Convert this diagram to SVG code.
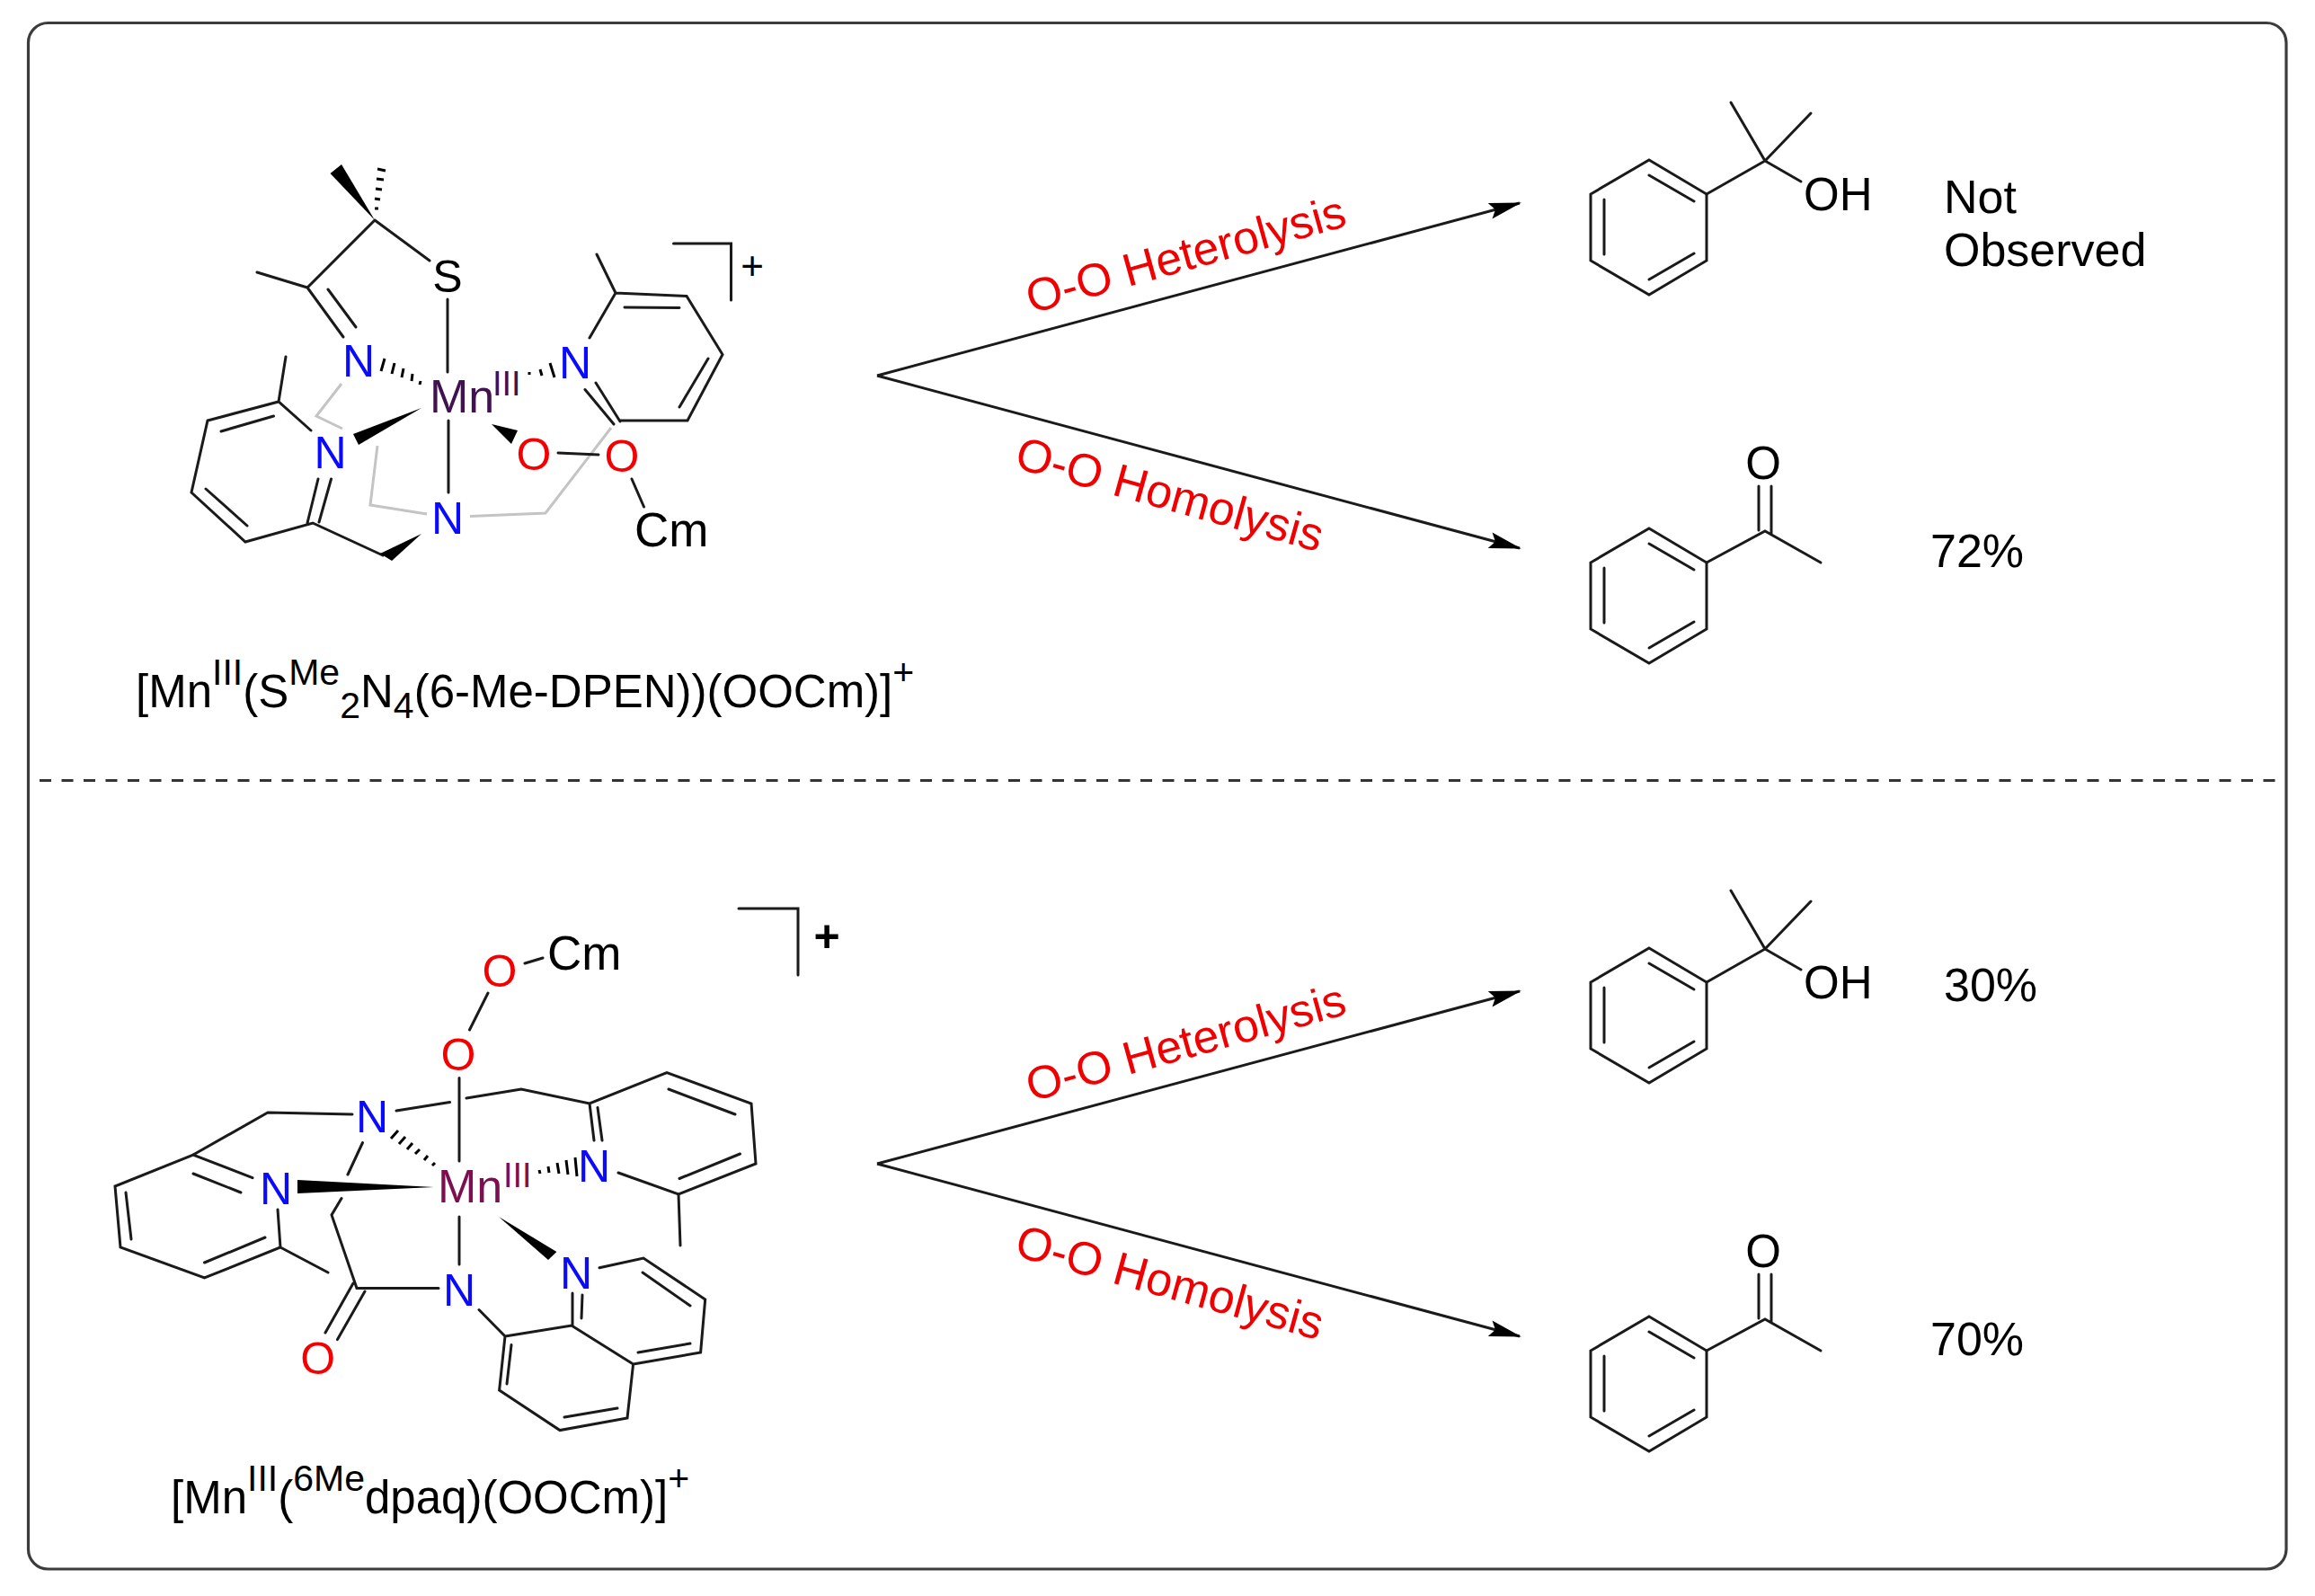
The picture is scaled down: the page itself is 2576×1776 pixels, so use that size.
<svg xmlns="http://www.w3.org/2000/svg" xmlns:xlink="http://www.w3.org/1999/xlink" width="2576" height="1776" viewBox="0 0 2576 1776">
<style>
text{font-family:"Liberation Sans",Arial,sans-serif;font-size:50px;fill:#000}
.c{text-anchor:middle}
.b{fill:none;stroke:#1a1a1a;stroke-width:3;stroke-linecap:round;stroke-linejoin:miter}
.g{fill:none;stroke:#c4c4c4;stroke-width:3;stroke-linejoin:miter}
.w{fill:#000;stroke:none}
.h{fill:none;stroke:#000;stroke-width:3}
.n{fill:#0a0aff}
.o{fill:#f50000}
.m1{fill:#40124f;font-size:52px}
.m2{fill:#7c0f50;font-size:52px}
.sup{font-size:41px}
.cap{font-size:51px}
.cm{font-size:53px}
.pr{font-size:51px}
.y{font-size:52px}
.small{font-size:38px}
.lab{font-size:52px;fill:#f00000;text-anchor:middle}
.lab2{font-size:51.500px}
.arr{fill:none;stroke:#1a1a1a;stroke-width:3;marker-end:url(#head)}
</style>
<defs>
<marker id="head" markerUnits="userSpaceOnUse" markerWidth="36" markerHeight="20" refX="34" refY="10" orient="auto">
<path d="M0 1L36 10L0 19L6 10Z" fill="#000"/>
</marker>
<g id="phenyl">
<path class="b" d="M1835 178L1899 216V290L1835 328L1770 290V216Z"/>
<path class="b" d="M1835 195L1885 224M1785 222V283M1835 311L1885 282"/>
</g>
<g id="cumol">
<use href="#phenyl"/>
<path class="b" d="M1899 216L1964 179L1926 114M1964 179L2015 126M1964 179L2004 202"/>
<text x="2007" y="234" class="pr">OH</text>
</g>
<g id="aceto">
<use href="#phenyl" y="410"/>
<path class="b" d="M1899 626L1964 591L2026 626M1957 590V541M1971 594V541"/>
<text x="1962" y="533" class="pr c">O</text>
</g>
</defs>
<rect width="2576" height="1776" fill="#fff"/>
<g id="frame">
<rect x="31.500" y="25.500" width="2512.500" height="1720.500" rx="22" fill="none" stroke="#3c3c3c" stroke-width="3.200"/>
</g>
<g id="divider">
<path d="M44 868.500H2540" fill="none" stroke="#333" stroke-width="3" stroke-dasharray="13 11.500"/>
</g>
<g id="connectors">
<path class="arr" d="M976 418L1691 226"/>
<path class="arr" d="M976 418L1691 610"/>
<path class="arr" d="M976 1295L1691 1103"/>
<path class="arr" d="M976 1295L1691 1487"/>
</g>
<g id="complex-1">
<path class="g" d="M380 427L352 463L381 477M420 496L412 562L475 572M523 574.500L607 571L680 476"/>
<path class="b" d="M417 245L478 290M417 245L342 320L286 303M342 320L382 375M365 322L396 364M498 333V414M499 468V548M621 504L666 506M703 533L716.500 564"/>
<path class="b" d="M346 479L310 447L231 468L213 548L273 603L348 582L426 618M310 447L318 397M354 533L342 582M368.500 533L355 581M246 480L304.500 463M229 544L275 585"/>
<path class="b" d="M656 376L685 326L764 329.500L804 394.500L765 468H690M685 326L664 283M651 433.500L683 472M663 426L690 469M695 342L756 342.500M788 399L756 453"/>
<path class="w" d="M417 245L367.500 193L380 183Z"/>
<path class="h" d="M417 232L421 232M417 221L423 222M418 210L425 211M419 199L427 200M420 188L429 190"/>
<path class="w" d="M469 454L393 483L399 495Z"/>
<path class="w" d="M547 472L576 479L569 494Z"/>
<path class="w" d="M469 594L423 616L436 624Z"/>
<path class="h" d="M428 399L424 413M439 404L436 416M449 410L447 420M459 416L458 424M468 424L467 428M612 404L617 420M601 411L603 418M589 414V417"/>
<path class="b" d="M749.500 271H813.500V334"/>
<text x="498" y="325" class="c">S</text>
<text x="399" y="419" class="c n">N</text>
<text x="640" y="421" class="c n">N</text>
<text x="367.500" y="521" class="c n">N</text>
<text x="498" y="594" class="c n">N</text>
<text x="478" y="459" class="m1">Mn</text>
<text x="548" y="440" class="small m1">III</text>
<text x="594" y="523" class="c o">O</text>
<text x="692" y="525" class="c o">O</text>
<text x="706" y="608" class="cm">Cm</text>
<text x="837" y="311" class="small c" style="font-size:44px">+</text>
<text id="caption-1" x="151" y="787" class="cap">[Mn<tspan dy="-25" class="sup">III</tspan><tspan dy="25">(S</tspan><tspan dy="-25" class="sup">Me</tspan><tspan dy="37" class="sup">2</tspan><tspan dy="-12">N</tspan><tspan dy="12" class="sup">4</tspan><tspan dy="-12">(6-Me-DPEN))(OOCm)]</tspan><tspan dy="-25" class="sup">+</tspan></text>
</g>
<g id="complex-2">
<path class="b" d="M584 1072L604 1066M543 1105L522.500 1146M511 1199.500V1292M511 1354V1407"/>
<path class="b" d="M392 1240L298 1238L215 1285M441 1236L500.500 1226.500M519 1222L580 1212L656 1228L742 1193.500L836 1228L841 1295L755 1329L688 1305M755 1329L757 1386M661 1269L656 1228M670 1269L665 1232.500M744 1212L818 1240M756 1311.500L823.500 1284"/>
<path class="b" d="M281 1310.600L215 1285L128 1320L134 1388L227.500 1422L312 1388L309 1346M312 1388L365 1416M215 1306L268 1327M140 1327L146 1379M227.500 1405L295 1377"/>
<path class="b" d="M403.500 1271.500L387 1307M380 1333.500L369 1352L397 1433.600H488M393 1428L362 1483M406 1437L375.500 1490.600"/>
<path class="b" d="M533 1457.500L562 1487L555.600 1547L623 1591.600L698 1578L704.600 1518L636 1475L562 1487M637 1475V1439M647 1467L648 1441M667 1410.700L716 1400L784.700 1446L779.600 1505L704.600 1518M569 1496.600L564 1540M628 1577L687 1567M710 1505L768 1495M768 1453L715 1416"/>
<path class="w" d="M483 1321L331 1313V1328Z"/>
<path class="w" d="M555 1354L619.400 1393L610 1402Z"/>
<path class="h" d="M443 1258L435 1267M451 1265L444 1273M459 1272L453 1279M467 1279L462 1284M476 1286L472 1291M484 1294L481 1297M640 1288L642 1309M630 1291L632 1307M620 1294L622 1306M610 1298L611 1305M600 1302L601 1306"/>
<path class="b" d="M822 1011H888V1085"/>
<text x="414" y="1260" class="c n">N</text>
<text x="307" y="1340" class="c n">N</text>
<text x="661" y="1315" class="c n">N</text>
<text x="511" y="1453" class="c n">N</text>
<text x="641" y="1434" class="c n">N</text>
<text x="487" y="1338" class="m2">Mn</text>
<text x="560" y="1321" class="small m2">III</text>
<text x="510" y="1191" class="c o">O</text>
<text x="556" y="1098" class="c o">O</text>
<text x="353.600" y="1529" class="c o">O</text>
<text x="609" y="1079" class="cm">Cm</text>
<text x="920" y="1059" class="small c" font-weight="bold" style="font-size:50px">+</text>
<text id="caption-2" x="190" y="1684" class="cap">[Mn<tspan dy="-25" class="sup">III</tspan><tspan dy="25">(</tspan><tspan dy="-25" class="sup">6Me</tspan><tspan dy="25">dpaq)(OOCm)]</tspan><tspan dy="-25" class="sup">+</tspan></text>
</g>
<g id="label-top-heterolysis"><text class="lab lab2" transform="translate(1324 300) rotate(-15.500)">O-O Heterolysis</text></g>
<g id="label-top-homolysis"><text class="lab" transform="translate(1297 567) rotate(15.500)">O-O Homolysis</text></g>
<g id="label-bottom-heterolysis"><text class="lab lab2" transform="translate(1324 1177) rotate(-15.500)">O-O Heterolysis</text></g>
<g id="label-bottom-homolysis"><text class="lab" transform="translate(1297 1444) rotate(15.500)">O-O Homolysis</text></g>
<g id="product-top-alcohol"><use href="#cumol"/></g>
<g id="product-top-ketone"><use href="#aceto"/></g>
<g id="product-bottom-alcohol"><use href="#cumol" y="877"/></g>
<g id="product-bottom-ketone"><use href="#aceto" y="877"/></g>
<g id="yields">
<text x="2163" y="237" class="y">Not</text>
<text x="2163" y="296" class="y">Observed</text>
<text x="2148" y="631" class="y">72%</text>
<text x="2163" y="1114" class="y">30%</text>
<text x="2148" y="1508" class="y">70%</text>
</g>
</svg>
